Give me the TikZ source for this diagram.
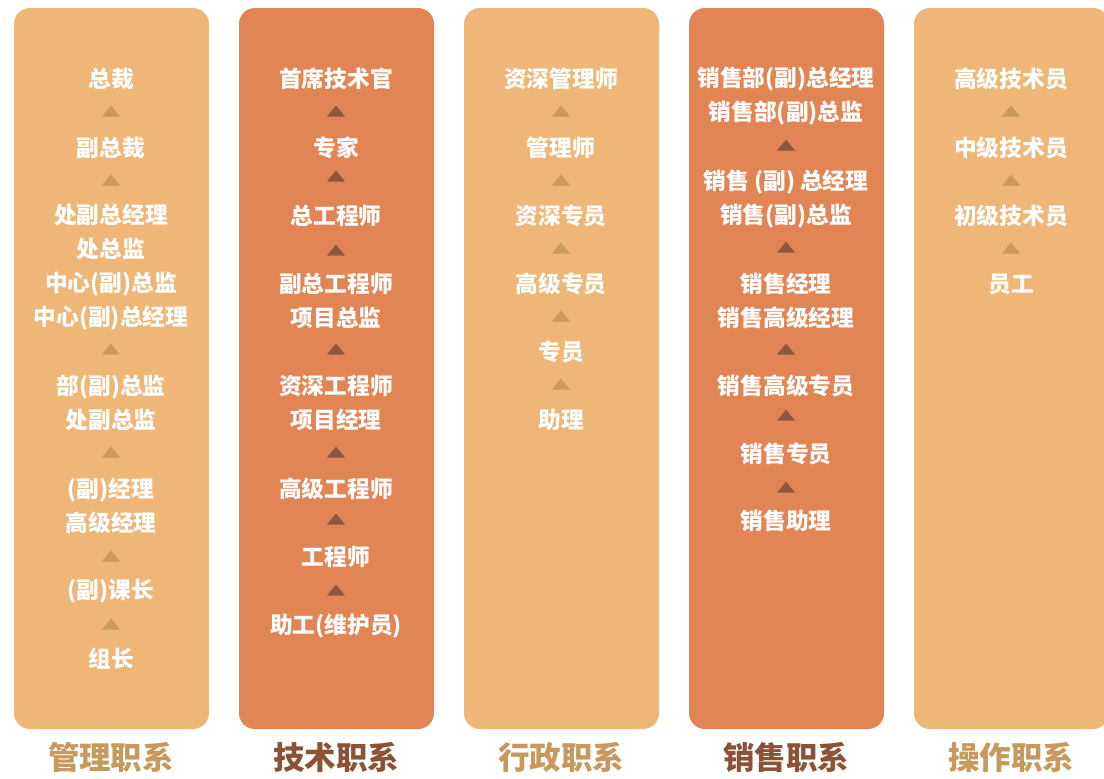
\documentclass[tikz,border=0pt]{standalone}
\usepackage{fontspec}
\setmainfont{Noto Sans CJK SC}
\definecolor{lightbox}{HTML}{EEB677}
\definecolor{darkbox}{HTML}{E28555}
\definecolor{lighttri}{HTML}{C89A5E}
\definecolor{darktri}{HTML}{8E573B}
\definecolor{lighttitle}{HTML}{C8995D}
\definecolor{darktitle}{HTML}{8B5235}
\newcommand\uptri[3]{\fill[#3] (#1-9,#2+5.5) -- (#1+9,#2+5.5) -- (#1,#2-5.5) -- cycle;}
\begin{document}
\begin{tikzpicture}[x=1pt,y=-1pt,
  colbox/.style={rounded corners=16pt},
  item/.style={text=white,font=\bfseries\fontsize{22.7}{34}\selectfont,align=center,inner sep=0pt},
  coltitle/.style={font=\bfseries\fontsize{31.5}{31.5}\selectfont,inner sep=0pt}]
\useasboundingbox (0,0) rectangle (1104,779);
% boxes
\fill[lightbox,colbox] (14,8) rectangle (209,729);
\fill[darkbox,colbox] (239,8) rectangle (434,729);
\fill[lightbox,colbox] (464,8) rectangle (659,729);
\fill[darkbox,colbox] (689,8) rectangle (884,729);
\fill[lightbox,colbox] (914,8) rectangle (1109,729);
% titles
\node[coltitle,text=lighttitle] (t1) at (111,757) {管理职系};
\node[coltitle,text=darktitle] (t2) at (336,757) {技术职系};
\node[coltitle,text=lighttitle] (t3) at (561,757) {行政职系};
\node[coltitle,text=darktitle] (t4) at (786,757) {销售职系};
\node[coltitle,text=lighttitle] (t5) at (1011,757) {操作职系};
% column 1
\node[item] (a1) at (111,79) {总裁};
\node[item] (a2) at (111,148) {副总裁};
\node[item] (a3) at (111,267) {处副总经理\\处总监\\中心(副)总监\\中心(副)总经理};
\node[item] (a4) at (111,403) {部(副)总监\\处副总监};
\node[item] (a5) at (111,505.5) {(副)经理\\高级经理};
\node[item] (a6) at (111,591) {(副)课长};
\node[item] (a7) at (111,659) {组长};
\uptri{111}{111}{lighttri}
\uptri{111}{180}{lighttri}
\uptri{111}{349}{lighttri}
\uptri{111}{452}{lighttri}
\uptri{111}{556}{lighttri}
\uptri{111}{624}{lighttri}
% column 2
\node[item] (b1) at (336,79) {首席技术官};
\node[item] (b2) at (336,148) {专家};
\node[item] (b3) at (336,216) {总工程师};
\node[item] (b4) at (336,301) {副总工程师\\项目总监};
\node[item] (b5) at (336,403) {资深工程师\\项目经理};
\node[item] (b6) at (336,489) {高级工程师};
\node[item] (b7) at (336,557) {工程师};
\node[item] (b8) at (336,626) {助工(维护员)};
\uptri{336}{111}{darktri}
\uptri{336}{176}{darktri}
\uptri{336}{250}{darktri}
\uptri{336}{349}{darktri}
\uptri{336}{452}{darktri}
\uptri{336}{519}{darktri}
\uptri{336}{590}{darktri}
% column 3
\node[item] (c1) at (561,79) {资深管理师};
\node[item] (c2) at (561,148) {管理师};
\node[item] (c3) at (561,216) {资深专员};
\node[item] (c4) at (561,284) {高级专员};
\node[item] (c5) at (561,352) {专员};
\node[item] (c6) at (561,420) {助理};
\uptri{561}{111}{lighttri}
\uptri{561}{180}{lighttri}
\uptri{561}{248}{lighttri}
\uptri{561}{316}{lighttri}
\uptri{561}{384}{lighttri}
% column 4
\node[item] (d1) at (786,96) {销售部(副)总经理\\销售部(副)总监};
\node[item] (d2) at (786,199) {销售 (副) 总经理\\销售(副)总监};
\node[item] (d3) at (786,301) {销售经理\\销售高级经理};
\node[item] (d4) at (786,386) {销售高级专员};
\node[item] (d5) at (786,454) {销售专员};
\node[item] (d6) at (786,521) {销售助理};
\uptri{786}{145}{darktri}
\uptri{786}{247}{darktri}
\uptri{786}{349}{darktri}
\uptri{786}{415}{darktri}
\uptri{786}{487}{darktri}
% column 5
\node[item] (e1) at (1011,79) {高级技术员};
\node[item] (e2) at (1011,148) {中级技术员};
\node[item] (e3) at (1011,216) {初级技术员};
\node[item] (e4) at (1011,284) {员工};
\uptri{1011}{111}{lighttri}
\uptri{1011}{180}{lighttri}
\uptri{1011}{248}{lighttri}
\end{tikzpicture}
\end{document}
